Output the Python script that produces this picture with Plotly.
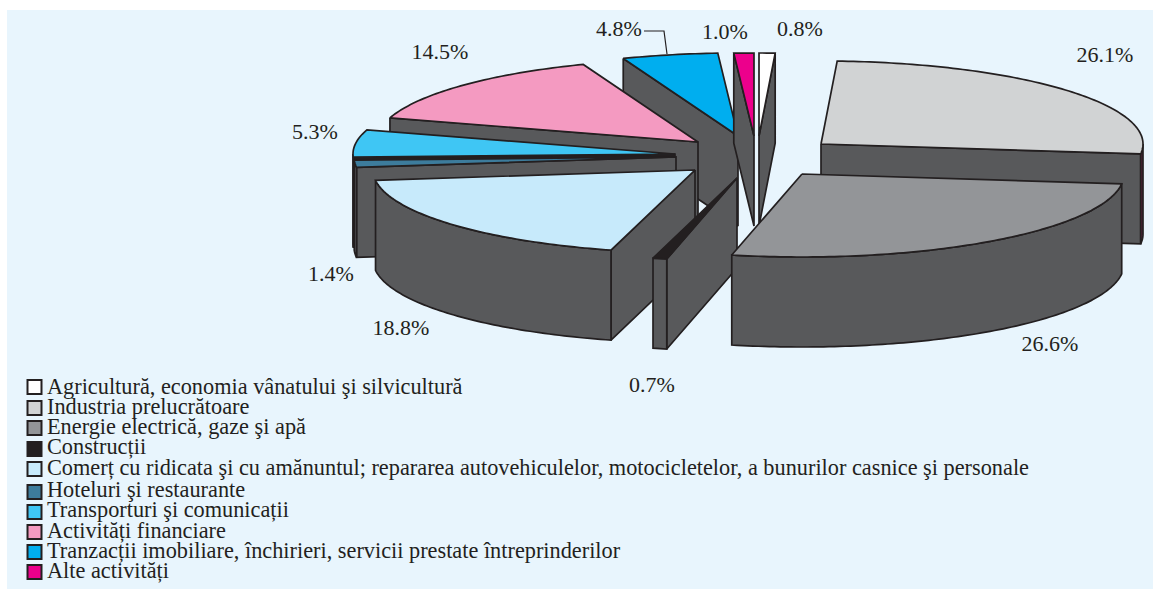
import numpy as np
import plotly.graph_objects as go

categories = [
    "Agricultură, economia vânatului şi silvicultură",
    "Industria prelucrătoare",
    "Energie electrică, gaze şi apă",
    "Construcții",
    "Comerț cu ridicata şi cu amănuntul; repararea autovehiculelor, motocicletelor, a bunurilor casnice şi personale",
    "Hoteluri şi restaurante",
    "Transporturi şi comunicații",
    "Activități financiare",
    "Tranzacții imobiliare, închirieri, servicii prestate întreprinderilor",
    "Alte activități",
]
values = [0.8, 26.1, 26.6, 0.7, 18.8, 1.4, 5.3, 14.5, 4.8, 1.0]
tick_labels = ["0.8%", "26.1%", "26.6%", "0.7%", "18.8%", "1.4%", "5.3%", "14.5%", "4.8%", "1.0%"]

# Styling and layout (pixel space of the figure)
colors = ["#ffffff", "#d1d3d4", "#939598", "#231f20", "#c7eafb",
          "#3d7c9c", "#3fc6f4", "#f49ac1", "#00aeef", "#ec008c"]
apex_x = [759, 821, 802, 737, 695, 676, 675, 698, 738, 754]
apex_y = [136, 144, 174, 178, 170, 157, 154, 142, 136, 136]
draw_order = [8, 9, 0, 7, 6, 5, 4, 3, 1, 2]
label_x = [800, 1105, 1050, 652, 401, 331, 315, 440, 619, 725]
label_y = [30, 56, 345, 386, 329, 275, 133, 53, 30, 33]
legend_box_y = [387, 408, 428, 449, 469, 492, 512, 532, 552, 572]
legend_text_y = [388, 408, 428, 448, 469, 491, 511, 532, 552, 572]

RX, RY, DEPTH = 322, 83, 90
WALL, EDGE = "#58595b", "#231f20"
FONT = "Liberation Serif"

edges = np.concatenate([[0], np.cumsum(values)]) / sum(values) * 2 * np.pi


def rim(ax, ay, t0, t1):
    t = np.linspace(t0, t1, max(2, int(abs(t1 - t0) * 60)))
    return ax + RX * np.sin(t), ay - RY * np.cos(t)


def poly(fig, xs, ys, color, name):
    fig.add_trace(go.Scatter(x=list(xs) + [xs[0]], y=list(ys) + [ys[0]], mode="lines",
                             fill="toself", fillcolor=color,
                             line=dict(color=EDGE, width=1.7, simplify=False),
                             name=name, hoverinfo="name", showlegend=False))


fig = go.Figure()
for i in draw_order:
    ax, ay, t0, t1, name = apex_x[i], apex_y[i], edges[i], edges[i + 1], categories[i]
    if np.pi < t0 < 2 * np.pi:
        px, py = rim(ax, ay, t0, t0)
        wall = EDGE if i == 6 else WALL
        poly(fig, [px[0], ax, ax, px[0]], [py[0], ay, ay + DEPTH, py[0] + DEPTH], wall, name)
    if 0 < t1 < np.pi:
        px, py = rim(ax, ay, t1, t1)
        poly(fig, [ax, px[0], px[0], ax], [ay, py[0], py[0] + DEPTH, ay + DEPTH], WALL, name)
    lo, hi = max(t0, np.pi / 2), min(t1, 3 * np.pi / 2)
    if lo < hi:
        px, py = rim(ax, ay, lo, hi)
        wall = "#5e2340" if i == 1 else EDGE if i == 6 else WALL
        poly(fig, np.r_[px, px[::-1]], np.r_[py, py[::-1] + DEPTH], wall, name)
    px, py = rim(ax, ay, t0, t1)
    poly(fig, np.r_[ax, px], np.r_[ay, py], colors[i], name)

# Percentage labels
fig.add_trace(go.Scatter(x=label_x, y=label_y, mode="text", text=tick_labels,
                         textposition="middle center", hoverinfo="skip", showlegend=False,
                         textfont=dict(family=FONT, size=22, color=EDGE)))

# Legend
fig.add_trace(go.Scatter(x=[34.5] * len(categories), y=legend_box_y, mode="markers",
                         marker=dict(symbol="square", size=14, color=colors,
                                     line=dict(color=EDGE, width=2)),
                         hoverinfo="skip", showlegend=False))
fig.add_trace(go.Scatter(x=[47] * len(categories), y=legend_text_y, mode="text", text=categories,
                         textposition="middle right", hoverinfo="skip", showlegend=False,
                         textfont=dict(family=FONT, size=22.3, color=EDGE)))

fig.update_layout(
    width=1153, height=590, margin=dict(l=0, r=0, t=0, b=0),
    paper_bgcolor="#ffffff", plot_bgcolor="#ffffff",
    xaxis=dict(range=[0, 1153], visible=False, fixedrange=True),
    yaxis=dict(range=[590, 0], visible=False, fixedrange=True),
    shapes=[
        dict(type="rect", x0=7, x1=1153, y0=10, y1=589, layer="below",
             fillcolor="#e8f5fd", line=dict(width=0)),
        dict(type="path", path="M 644 31 L 664 31 L 667 54", layer="above",
             line=dict(color=EDGE, width=1.2)),
    ],
)
fig.write_html("out.html", config=dict(displayModeBar=False),
               post_script="document.body.style.margin='0';document.body.style.overflow='hidden';")
